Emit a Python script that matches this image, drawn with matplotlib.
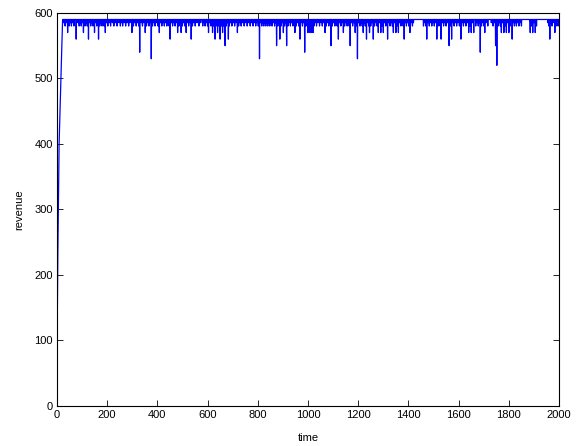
import numpy as np
import matplotlib
matplotlib.use("Agg")
import matplotlib.pyplot as plt

plt.rcParams["font.family"] = ["Liberation Sans", "DejaVu Sans"]

# ---- data -------------------------------------------------------------
t_end = 2000
steady_revenue = 590

# start-up ramp (time, revenue)
ramp_t = [0, 3, 9, 16, 23]
ramp_v = [50, 200, 400, 500, 590]

# time steps at which revenue drops, grouped by the level it drops to
dip_585 = [28, 37, 54, 63, 84, 93, 101, 117, 131, 139, 155, 163, 175, 184, 198, 209, 221,
           233, 247, 258, 268, 280, 291, 310, 321, 336, 346, 362, 371, 386, 396,
           413, 423, 433, 443, 456, 466, 476, 491, 505, 520, 530, 545, 558, 573, 586,
           595, 609, 618, 627, 638, 646, 659, 667, 679, 692, 703, 713, 729, 740, 752,
           764, 775, 787, 797,
           812, 820, 828, 836, 844, 852, 862, 871, 884, 897, 911, 925, 935, 944, 958,
           973, 982, 996, 1011, 1029, 1040, 1052, 1062, 1078, 1087, 1102, 1112, 1126,
           1136, 1151, 1160, 1173, 1183,
           1202, 1212, 1224, 1238, 1246, 1255, 1270, 1285, 1305, 1322, 1332, 1345, 1365,
           1375, 1388, 1397, 1411, 1420, 1465, 1478, 1488, 1498, 1508, 1522, 1535, 1545,
           1555, 1577, 1587, 1597, 1614, 1624, 1634,
           1655, 1673, 1682, 1696, 1709, 1730, 1742, 1762, 1775, 1795, 1818, 1826, 1835,
           1845, 1884, 1900, 1955, 1968, 1976, 1992]
dip_580 = [33, 49, 58, 68, 89, 97, 112, 121, 135, 144, 159, 171, 180, 188, 203, 214, 227,
           240, 253, 262, 274, 286, 305, 316, 326, 341, 357, 367, 381, 391,
           403, 418, 428, 438, 447, 461, 471, 486, 500, 510, 525, 540, 551, 566, 581,
           590, 600, 614, 623, 634, 642, 655, 663, 675, 687, 697, 708, 724, 734, 746,
           758, 770, 781, 792, 802,
           816, 824, 832, 840, 848, 857, 867, 880, 893, 907, 920, 930, 940, 953, 963,
           978, 992, 1003, 1024, 1034, 1046, 1057, 1073, 1083, 1097, 1107, 1116, 1131,
           1146, 1156, 1164, 1178, 1192,
           1207, 1216, 1228, 1242, 1250, 1265, 1275, 1295, 1310, 1327, 1336, 1355, 1370,
           1379, 1392, 1401, 1416, 1460, 1469, 1483, 1493, 1503, 1518, 1526, 1540, 1550,
           1567, 1582, 1592, 1603, 1619, 1629,
           1645, 1668, 1678, 1691, 1700, 1716, 1737, 1757, 1766, 1785, 1805, 1822, 1830,
           1840, 1850, 1890, 1910, 1959, 1972, 1988, 1996]
dip_570 = [43, 106, 150, 193, 299, 352, 408, 481, 495, 515, 604, 620, 640, 660, 719, 902,
           948, 1000, 1008, 1015, 1020, 1068, 1141, 1188, 1220, 1245, 1280, 1290, 1300,
           1340, 1350, 1360, 1406, 1640, 1650, 1660, 1704, 1770, 1780, 1790, 1800, 1885,
           1895, 1905, 1983]
dip_560 = [77, 126, 166, 451, 535, 630, 650, 683, 888, 968, 1121, 1233, 1260, 1317, 1383,
           1473, 1513, 1530, 1572, 1609, 1813, 1963]
dip_550 = [670, 875, 915, 1092, 1168, 1562, 1747]
dip_540 = [330, 987, 1686]
dip_530 = [376, 807, 1197]
dip_520 = [1752]

# ---- series -----------------------------------------------------------
time = np.arange(0, t_end + 1)
revenue = np.full(time.shape, steady_revenue, dtype=float)
head = time <= ramp_t[-1]
revenue[head] = np.interp(time[head], ramp_t, ramp_v)
for level, steps in [(585, dip_585), (580, dip_580), (570, dip_570), (560, dip_560),
                     (550, dip_550), (540, dip_540), (530, dip_530), (520, dip_520)]:
    revenue[steps] = level

# ---- figure -----------------------------------------------------------
fig = plt.figure(figsize=(5.8, 4.46), dpi=100)
ax = fig.add_axes([0.098, 0.09, 0.866, 0.881])
ax.plot(time, revenue, color=(0, 0, 1), linewidth=0.9)

ax.set_xlim(0, 2000)
ax.set_ylim(0, 600)
ax.set_xticks(np.arange(0, 2001, 200))
ax.set_yticks(np.arange(0, 601, 100))
ax.tick_params(direction="in", top=True, right=True, labelsize=8, length=4,
               width=0.6, pad=3)
for s in ax.spines.values():
    s.set_linewidth(0.8)
ax.set_xlabel("time", fontsize=8, labelpad=9)
ax.set_ylabel("revenue", fontsize=8, labelpad=7)

fig.savefig("out.png", dpi=100)
